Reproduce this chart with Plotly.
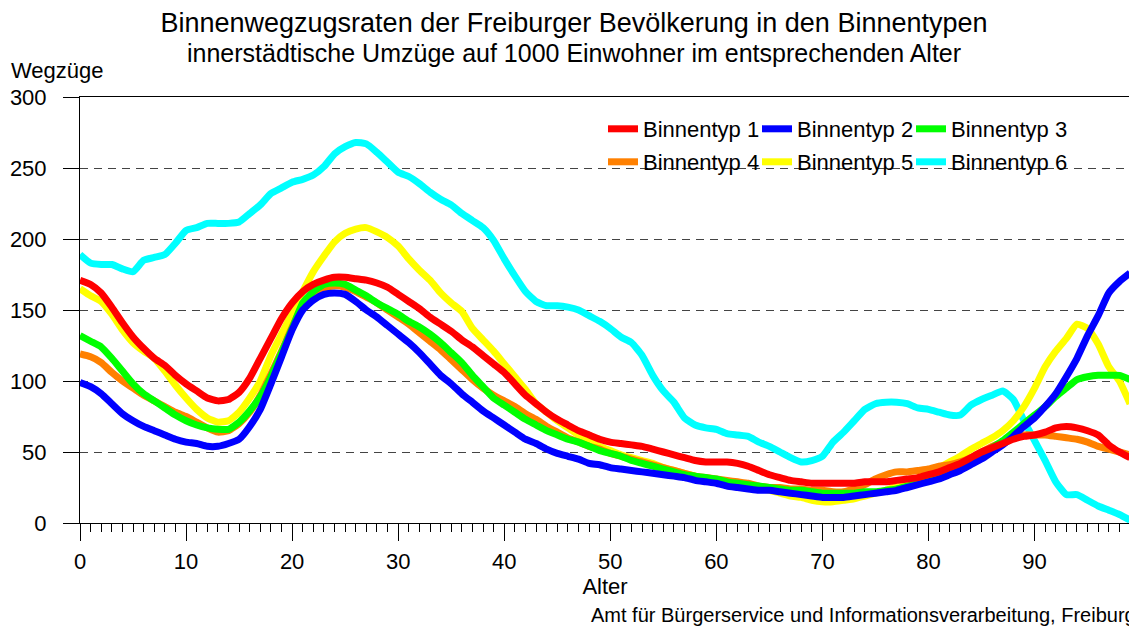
import plotly.graph_objects as go

ages = list(range(0, 100))

typ1 = [171, 168, 162, 152, 141, 131, 123, 116, 111, 104, 98, 93, 88, 86, 87, 92, 102, 116, 130, 144,
        155, 163, 168, 171, 173, 173, 172, 171, 169, 166, 161, 156, 151, 145, 140, 135, 129, 124, 118, 112,
        106, 98, 90, 84, 78, 73, 69, 65, 62, 59, 57, 56, 55, 54, 52, 50, 48, 46, 44, 43,
        43, 43, 42, 40, 37, 34, 32, 30, 29, 28, 28, 28, 28, 28, 29, 29, 29, 30, 31, 32,
        34, 36, 39, 42, 46, 50, 53, 56, 59, 61, 62, 64, 67, 68, 67, 65, 62, 55, 50, 46]
typ2 = [99, 96, 91, 84, 77, 72, 68, 65, 62, 59, 57, 56, 54, 54, 56, 59, 68, 80, 98, 117,
        136, 150, 157, 161, 162, 161, 156, 150, 145, 139, 133, 127, 120, 112, 104, 98, 91, 85, 79, 74,
        69, 64, 59, 56, 52, 49, 47, 45, 42, 41, 39, 38, 37, 36, 35, 34, 33, 32, 30, 29,
        28, 26, 25, 24, 23, 23, 22, 21, 20, 19, 18, 18, 18, 19, 20, 21, 22, 23, 25, 27,
        29, 31, 34, 37, 41, 45, 50, 55, 61, 68, 74, 82, 91, 103, 116, 132, 146, 162, 170, 176]
typ3 = [132, 128, 124, 116, 107, 98, 91, 86, 81, 76, 72, 69, 67, 66, 66, 71, 79, 89, 103, 120,
        137, 155, 163, 168, 169, 168, 164, 160, 155, 151, 147, 142, 138, 133, 127, 120, 113, 104, 96, 88,
        83, 78, 73, 69, 65, 62, 59, 57, 54, 51, 49, 47, 44, 42, 40, 38, 36, 34, 33, 32,
        31, 29, 28, 27, 26, 25, 24, 23, 23, 22, 21, 21, 21, 21, 22, 22, 23, 24, 26, 28,
        31, 34, 37, 40, 44, 48, 53, 58, 64, 70, 76, 82, 89, 95, 101, 103, 104, 104, 104, 101]
typ4 = [119, 117, 113, 106, 100, 95, 90, 86, 82, 78, 75, 71, 67, 64, 65, 70, 78, 90, 105, 121,
        138, 153, 161, 165, 167, 166, 163, 159, 155, 150, 145, 140, 134, 128, 122, 115, 108, 101, 95, 90,
        86, 82, 77, 73, 68, 64, 60, 57, 54, 52, 49, 47, 45, 43, 41, 39, 37, 35, 33, 32,
        31, 30, 29, 28, 26, 25, 25, 24, 24, 23, 23, 22, 22, 24, 27, 31, 34, 36, 36, 37,
        38, 40, 41, 43, 46, 50, 54, 57, 60, 62, 62, 62, 61, 60, 59, 57, 54, 52, 50, 48]
typ5 = [165, 160, 156, 147, 136, 127, 121, 116, 107, 97, 88, 80, 74, 71, 72, 78, 88, 100, 118, 133,
        148, 163, 177, 188, 198, 204, 207, 208, 205, 201, 195, 186, 178, 171, 162, 155, 149, 137, 129, 121,
        112, 103, 94, 84, 78, 72, 67, 62, 58, 54, 51, 48, 46, 44, 42, 39, 37, 35, 33, 31,
        29, 28, 26, 25, 24, 23, 21, 19, 18, 16, 15, 15, 16, 17, 19, 21, 23, 26, 29, 32,
        36, 39, 43, 47, 52, 56, 60, 65, 72, 82, 95, 110, 121, 130, 140, 137, 126, 110, 100, 84]
typ6 = [189, 183, 182, 182, 179, 177, 185, 187, 189, 197, 206, 208, 211, 211, 211, 212, 218, 224, 232, 236,
        240, 242, 245, 251, 260, 265, 268, 267, 261, 254, 247, 244, 239, 233, 228, 224, 218, 213, 208, 199,
        186, 174, 163, 156, 153, 153, 152, 150, 146, 142, 137, 131, 127, 118, 104, 93, 85, 74, 69, 67,
        66, 63, 62, 61, 57, 54, 50, 46, 43, 44, 47, 57, 64, 72, 80, 84, 85, 85, 84, 81,
        80, 78, 76, 76, 83, 87, 90, 93, 87, 72, 58, 44, 29, 20, 20, 16, 12, 9, 6, 2]

names = ["Binnentyp 1", "Binnentyp 2", "Binnentyp 3", "Binnentyp 4", "Binnentyp 5", "Binnentyp 6"]
series = [typ1, typ2, typ3, typ4, typ5, typ6]
colors = ["#ff0000", "#0000ff", "#00ff00", "#ff8000", "#ffff00", "#00ffff"]

FONT = "Arial, Liberation Sans, sans-serif"

# page has an 8px body margin; work in page pixels and convert
OFF = 8
W, H = 1137, 628
PL, PR, PT, PB = 80, 1130, 97, 523          # plot box in page pixels
L, T = PL - OFF, PT - OFF
R, B = W - (PR - OFF), H - (PB - OFF)
pw, ph = PR - PL, PB - PT

def px(p):
    return (p - PL) / pw

def py(p):
    return (PB - p) / ph

legend_names = ["legend", "legend2", "legend3", "legend4", "legend5", "legend6"]
legend_pos = [(643, 128), (797, 128), (951, 128), (643, 161), (797, 161), (951, 161)]

fig = go.Figure()
for i in reversed(range(6)):
    fig.add_trace(go.Scatter(
        x=ages, y=series[i], name=names[i], mode="lines",
        line=dict(color=colors[i], width=7, shape="spline", smoothing=0.5),
        legend=legend_names[i],
    ))

layout_legends = {}
for i, ln in enumerate(legend_names):
    tx, ty = legend_pos[i]
    layout_legends[ln] = dict(
        x=px(tx - 40), y=py(ty - 20), xanchor="left", yanchor="top",
        orientation="h", bgcolor="rgba(0,0,0,0)", borderwidth=0,
        font=dict(size=22, family=FONT, color="black"), itemwidth=30,
    )

fig.update_layout(
    width=W, height=H,
    margin=dict(l=L, r=R, t=T, b=B, autoexpand=False),
    paper_bgcolor="white", plot_bgcolor="white",
    font=dict(family=FONT, size=22, color="black"),
    showlegend=True,
    title=dict(
        text="Binnenwegzugsraten der Freiburger Bevölkerung in den Binnentypen",
        x=(574 - OFF) / W, xanchor="center", y=1 - (23 - OFF) / H, yanchor="middle",
        font=dict(size=27, family=FONT),
    ),
    annotations=[
        dict(text="innerstädtische Umzüge auf 1000 Einwohner im entsprechenden Alter",
             xref="paper", yref="paper", x=px(574), y=py(53),
             xanchor="center", yanchor="middle", showarrow=False,
             font=dict(size=25, family=FONT)),
        dict(text="Wegzüge", xref="paper", yref="paper",
             x=px(9), y=py(70), xanchor="left", yanchor="middle",
             showarrow=False, font=dict(size=22, family=FONT)),
        dict(text="Amt für Bürgerservice und Informationsverarbeitung, Freiburg",
             xref="paper", yref="paper", x=px(1138), y=py(615),
             xanchor="right", yanchor="middle", showarrow=False,
             font=dict(size=20, family=FONT)),
    ],
    **layout_legends,
)

fig.update_xaxes(
    range=[0, 99], tickmode="linear", tick0=0, dtick=10,
    showline=True, linecolor="black", linewidth=1, mirror=True,
    ticks="outside", ticklen=17, tickwidth=1, tickcolor="black",
    showgrid=False, zeroline=False,
    minor=dict(dtick=1, tick0=0, ticks="outside", ticklen=8, tickcolor="black", tickwidth=1, showgrid=False),
    tickfont=dict(size=22, family=FONT),
    ticklabelstandoff=2,
    title=dict(text="Alter", font=dict(size=22, family=FONT), standoff=0),
    automargin=False,
)
fig.update_yaxes(
    range=[0, 300], tickmode="linear", tick0=0, dtick=50,
    showline=True, linecolor="black", linewidth=1, mirror=True,
    ticks="outside", ticklen=16, tickwidth=1, tickcolor="black",
    showgrid=True, gridcolor="#444", gridwidth=1, griddash="8px,6px",
    zeroline=False,
    tickfont=dict(size=22, family=FONT),
    ticklabelstandoff=12,
    automargin=False,
)

fig.write_html("out.html")
